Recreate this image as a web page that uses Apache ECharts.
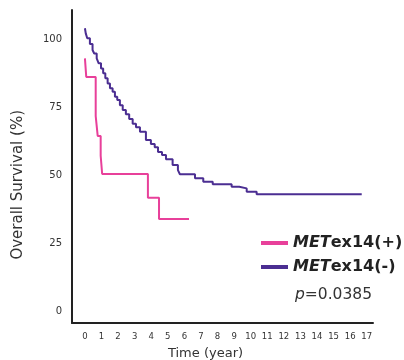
<!DOCTYPE html>
<html>
<head>
<meta charset="utf-8">
<script src="https://cdn.jsdelivr.net/npm/echarts@6/dist/echarts.min.js"></script>
<style>html,body{margin:0;padding:0;background:#fff}#c{width:404px;height:360px}</style>
</head>
<body>
<div id="c"></div>
<script>
// Kaplan-Meier step points [time (year), survival (%)]
var metPosTime = [0, 0.08, 0.65, 0.77, 0.95, 1.04, 3.80, 4.47, 6.28];
var metPosSurv = [92.9, 86.1, 71.7, 64.4, 57.1, 50.4, 41.7, 33.8, 33.8];
var metNegTime = [0, 0.05, 0.14, 0.30, 0.46, 0.56, 0.71, 0.83, 0.97, 1.10, 1.23, 1.37, 1.51, 1.67, 1.81, 1.95, 2.11, 2.28, 2.47, 2.67, 2.88, 3.08, 3.32, 3.68, 3.98, 4.21, 4.41, 4.65, 4.89, 5.29, 5.61, 5.73, 6.64, 7.14, 7.71, 8.85, 9.31, 9.76, 10.36, 16.70];
var metNegSurv = [104.0, 102.1, 100.3, 98.2, 96.0, 94.7, 92.9, 91.1, 89.2, 87.4, 85.6, 83.7, 81.9, 80.6, 78.8, 77.6, 75.7, 73.9, 72.4, 70.6, 68.9, 67.6, 65.9, 62.9, 61.4, 60.2, 58.5, 57.4, 55.8, 53.7, 51.8, 50.3, 48.8, 47.5, 46.6, 45.7, 45.1, 43.9, 42.9, 42.9];
var xTicks = [0,1,2,3,4,5,6,7,8,9,10,11,12,13,14,15,16,17];
var yTicks = [0,25,50,75,100];
var seriesNames = ['METex14(+)', 'METex14(-)'];
var pValue = '0.0385';

function pairs(t, s){ return t.map(function(v,i){ return [v, s[i]]; }); }

var FONT = 'DejaVu Sans';
var chart = echarts.init(document.getElementById('c'), null, {renderer:'canvas'});
chart.setOption({
  animation: false,
  backgroundColor: '#fff',
  grid: {left: 72, right: 31, top: 10, bottom: 37, containLabel: false, outerBoundsMode: 'none'},
  xAxis: {
    type: 'value', min: -0.78, max: 17.38,
    axisLine: {show: true, onZero: false, lineStyle: {color: '#222', width: 2}},
    axisTick: {show: false},
    splitLine: {show: false},
    axisLabel: {customValues: xTicks, color: '#333', fontFamily: FONT, fontSize: 8.5, margin: 9},
    name: 'Time (year)', nameLocation: 'middle', nameGap: 24,
    nameTextStyle: {color: '#333', fontFamily: FONT, fontSize: 13, padding: [0, 34, 0, 0]}
  },
  yAxis: {
    type: 'value', min: -4.4, max: 110.7,
    axisLine: {show: true, onZero: false, lineStyle: {color: '#222', width: 2}},
    axisTick: {show: false},
    splitLine: {show: false},
    axisLabel: {customValues: yTicks, color: '#333', fontFamily: FONT, fontSize: 10, margin: 10}
  },
  legend: {
    orient: 'vertical', left: 256, top: 230,
    itemWidth: 27, itemHeight: 4, itemGap: 8,
    icon: 'rect',
    data: seriesNames,
    formatter: function(n){ return '{i|MET}{b|' + n.slice(3) + '}'; },
    textStyle: {
      fontFamily: FONT, fontSize: 16, padding: [0,0,0,0],
      rich: {
        i: {fontFamily: FONT, fontSize: 16, fontWeight: 'bold', fontStyle: 'italic', color: '#222'},
        b: {fontFamily: FONT, fontSize: 16, fontWeight: 'bold', color: '#222'}
      }
    }
  },
  graphic: [
    {type: 'text', left: 11, top: 110, rotation: Math.PI/2,
     style: {text: 'Overall Survival (%)', fontFamily: FONT, fontSize: 15, fill: '#333'}},
    {type: 'text', left: 295, top: 287,
     style: {text: '{i|p}=' + pValue, fontFamily: FONT, fontSize: 15.5, fill: '#333',
       rich: {i: {fontFamily: FONT, fontSize: 15.5, fontStyle: 'italic', fill: '#333'}}}}
  ],
  series: [
    {name: seriesNames[0], type: 'line', step: 'end', symbol: 'none',
     data: pairs(metPosTime, metPosSurv), color: '#e8409a',
     lineStyle: {color: '#e8409a', width: 2}},
    {name: seriesNames[1], type: 'line', step: 'end', symbol: 'none',
     data: pairs(metNegTime, metNegSurv), color: '#4b2e92',
     lineStyle: {color: '#4b2e92', width: 2}}
  ]
});
</script>
</body>
</html>
